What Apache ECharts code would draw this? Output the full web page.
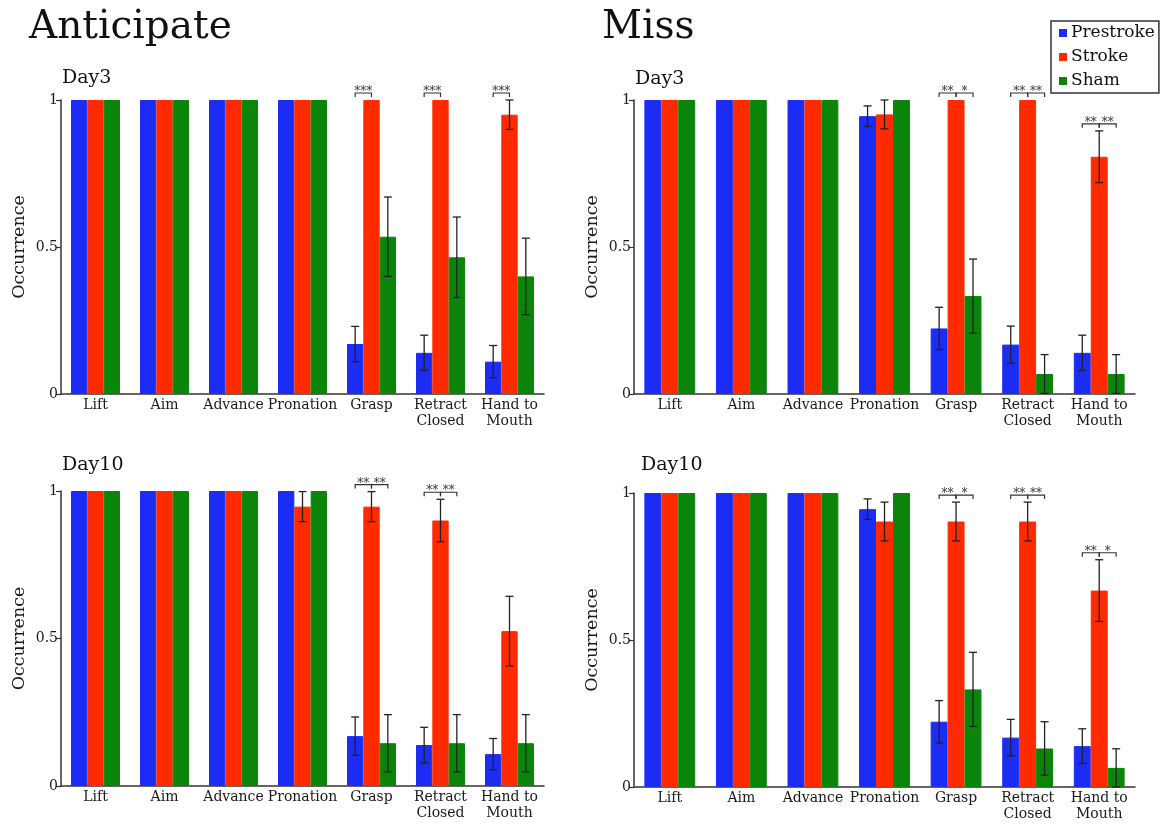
<!DOCTYPE html>
<html>
<head>
<meta charset="utf-8">
<script src="https://cdn.jsdelivr.net/npm/echarts@6/dist/echarts.min.js"></script>
<style>
html,body{margin:0;padding:0;background:#fff;}
#c{width:1164px;height:827px;}
</style>
</head>
<body>
<div id="c"></div>
<script>
// ---------- data ----------
const categories = ['Lift', 'Aim', 'Advance', 'Pronation', 'Grasp', 'Retract\nClosed', 'Hand to\nMouth'];
const seriesNames = ['Prestroke', 'Stroke', 'Sham'];
const yTicks = [0, 0.5, 1];

// Anticipate Day3
const antD3Pre       = [1, 1, 1, 1, 0.17, 0.14, 0.11];
const antD3PreErr    = [0, 0, 0, 0, 0.06, 0.06, 0.055];
const antD3Stroke    = [1, 1, 1, 1, 1, 1, 0.95];
const antD3StrokeErr = [0, 0, 0, 0, 0, 0, 0.05];
const antD3Sham      = [1, 1, 1, 1, 0.535, 0.465, 0.40];
const antD3ShamErr   = [0, 0, 0, 0, 0.135, 0.137, 0.13];
const antD3Sig       = [[4, 0, '***'], [5, 0, '***'], [6, 0, '***']];

// Miss Day3
const missD3Pre       = [1, 1, 1, 0.945, 0.223, 0.168, 0.14];
const missD3PreErr    = [0, 0, 0, 0.035, 0.072, 0.063, 0.06];
const missD3Stroke    = [1, 1, 1, 0.951, 1, 1, 0.807];
const missD3StrokeErr = [0, 0, 0, 0.049, 0, 0, 0.088];
const missD3Sham      = [1, 1, 1, 1, 0.333, 0.068, 0.068];
const missD3ShamErr   = [0, 0, 0, 0, 0.126, 0.066, 0.066];
const missD3Sig       = [[4, 0, '**'], [4, 1, '*'], [5, 0, '**'], [5, 1, '**'], [6, 0, '**'], [6, 1, '**']];

// Anticipate Day10
const antD10Pre       = [1, 1, 1, 1, 0.169, 0.139, 0.108];
const antD10PreErr    = [0, 0, 0, 0, 0.065, 0.06, 0.053];
const antD10Stroke    = [1, 1, 1, 0.947, 0.947, 0.90, 0.525];
const antD10StrokeErr = [0, 0, 0, 0.051, 0.051, 0.072, 0.118];
const antD10Sham      = [1, 1, 1, 1, 0.145, 0.145, 0.145];
const antD10ShamErr   = [0, 0, 0, 0, 0.097, 0.097, 0.097];
const antD10Sig       = [[4, 0, '**'], [4, 1, '**'], [5, 0, '**'], [5, 1, '**']];

// Miss Day10
const missD10Pre       = [1, 1, 1, 0.945, 0.222, 0.168, 0.139];
const missD10PreErr    = [0, 0, 0, 0.035, 0.072, 0.062, 0.059];
const missD10Stroke    = [1, 1, 1, 0.903, 0.903, 0.903, 0.668];
const missD10StrokeErr = [0, 0, 0, 0.066, 0.066, 0.066, 0.105];
const missD10Sham      = [1, 1, 1, 1, 0.332, 0.131, 0.065];
const missD10ShamErr   = [0, 0, 0, 0, 0.126, 0.091, 0.065];
const missD10Sig       = [[4, 0, '**'], [4, 1, '*'], [5, 0, '**'], [5, 1, '**'], [6, 0, '**'], [6, 1, '*']];

// ---------- styling / layout ----------
const FONT = 'DejaVu Serif';
const COLORS = ['#1b2cf5', '#ff2a00', '#0a850a'];
const GAP = 0.29;
const AXIS_COLOR = '#333';
const TEXT_COLOR = '#1a1a1a';

const panels = [
  { title: 'Day3',  tx: 62,  ty: 69,  grid: { left: 61,  top: 100, width: 483, height: 294 },
    vals: [antD3Pre, antD3Stroke, antD3Sham], errs: [antD3PreErr, antD3StrokeErr, antD3ShamErr], sig: antD3Sig },
  { title: 'Day3',  tx: 635, ty: 70,  grid: { left: 634, top: 100, width: 501, height: 294 },
    vals: [missD3Pre, missD3Stroke, missD3Sham], errs: [missD3PreErr, missD3StrokeErr, missD3ShamErr], sig: missD3Sig },
  { title: 'Day10', tx: 62,  ty: 456, grid: { left: 61,  top: 491, width: 483, height: 295 },
    vals: [antD10Pre, antD10Stroke, antD10Sham], errs: [antD10PreErr, antD10StrokeErr, antD10ShamErr], sig: antD10Sig },
  { title: 'Day10', tx: 641, ty: 456, grid: { left: 634, top: 493, width: 501, height: 294 },
    vals: [missD10Pre, missD10Stroke, missD10Sham], errs: [missD10PreErr, missD10StrokeErr, missD10ShamErr], sig: missD10Sig }
];

const titles = [
  { text: 'Anticipate', left: 29, top: 8, padding: 0, textStyle: { fontFamily: FONT, fontSize: 39, fontWeight: 'normal', color: '#111' } },
  { text: 'Miss', left: 602, top: 8, padding: 0, textStyle: { fontFamily: FONT, fontSize: 39, fontWeight: 'normal', color: '#111' } }
];
const grids = [], xAxes = [], yAxes = [], series = [];

panels.forEach((p, pi) => {
  titles.push({ text: p.title, left: p.tx, top: p.ty, padding: 0,
    textStyle: { fontFamily: FONT, fontSize: 19, fontWeight: 'normal', color: '#111' } });
  grids.push(p.grid);
  xAxes.push({
    type: 'category', gridIndex: pi, data: categories,
    axisLine: { lineStyle: { color: AXIS_COLOR, width: 1.5 } },
    axisTick: { show: false },
    axisLabel: { interval: 0, margin: 4, fontFamily: FONT, fontSize: 14, lineHeight: 15.5, color: TEXT_COLOR }
  });
  yAxes.push({
    type: 'value', gridIndex: pi, min: yTicks[0], max: yTicks[yTicks.length - 1], interval: yTicks[1] - yTicks[0],
    name: 'Occurrence', nameLocation: 'middle', nameGap: 33,
    nameTextStyle: { fontFamily: FONT, fontSize: 17.5, color: TEXT_COLOR },
    axisLine: { show: true, lineStyle: { color: AXIS_COLOR, width: 1.5 } },
    axisTick: { show: true, length: 5, lineStyle: { color: AXIS_COLOR, width: 1.2 } },
    axisLabel: { margin: 3, fontFamily: FONT, fontSize: 14, color: TEXT_COLOR },
    splitLine: { show: false }
  });

  // bars
  for (let k = 0; k < 3; k++) {
    series.push({
      type: 'bar', name: seriesNames[k], xAxisIndex: pi, yAxisIndex: pi,
      data: p.vals[k], itemStyle: { color: COLORS[k], borderColor: COLORS[k], borderWidth: 1 },
      barGap: '0%', barCategoryGap: (GAP * 100) + '%', z: 2
    });
  }
  // error bars
  for (let k = 0; k < 3; k++) {
    const d = p.vals[k].map((v, i) => [i, v, p.errs[k][i]]);
    series.push({
      type: 'custom', name: seriesNames[k] + ' error', xAxisIndex: pi, yAxisIndex: pi, z: 5,
      silent: true, data: d,
      renderItem: function (params, api) {
        const i = api.value(0), v = api.value(1), e = api.value(2);
        if (!(e > 0)) return null;
        const band = api.size([1, 0])[0];
        const bw = band * (1 - GAP) / 3;
        const c = api.coord([i, v]);
        const x = c[0] + (k - 1) * bw;
        const yt = api.coord([i, v + e])[1];
        const yb = api.coord([i, Math.max(0, v - e)])[1];
        const cap = 4;
        const st = { stroke: '#222', lineWidth: 1.3 };
        return { type: 'group', children: [
          { type: 'line', shape: { x1: x, y1: yt, x2: x, y2: yb }, style: st },
          { type: 'line', shape: { x1: x - cap, y1: yt, x2: x + cap, y2: yt }, style: st },
          { type: 'line', shape: { x1: x - cap, y1: yb, x2: x + cap, y2: yb }, style: st }
        ] };
      }
    });
  }
  // significance brackets
  const tops = categories.map((_, i) => Math.max(...[0, 1, 2].map(k => p.vals[k][i] + p.errs[k][i])));
  const sigData = p.sig.map(s => [s[0], s[1], tops[s[0]], s[2]]);
  series.push({
    type: 'custom', name: 'sig', xAxisIndex: pi, yAxisIndex: pi, z: 6, silent: true,
    data: sigData,
    renderItem: function (params, api) {
      const item = sigData[params.dataIndex];
      const i = item[0], pair = item[1], top = item[2], label = item[3];
      const band = api.size([1, 0])[0];
      const bw = band * (1 - GAP) / 3;
      const c = api.coord([i, top]);
      const y = c[1] - 7;
      const x1 = c[0] + (pair - 1) * bw, x2 = x1 + bw;
      return { type: 'group', children: [
        { type: 'polyline', shape: { points: [[x1, y + 4], [x1, y], [x2, y], [x2, y + 4]] },
          style: { stroke: '#333', lineWidth: 1.2, fill: null } },
        { type: 'text', x: (x1 + x2) / 2, y: y - 1,
          style: { text: label, fontFamily: FONT, fontSize: 12, fill: '#333', align: 'center', verticalAlign: 'middle' } }
      ] };
    }
  });
});

const chart = echarts.init(document.getElementById('c'), null, { renderer: 'canvas' });
chart.setOption({
  animation: false,
  backgroundColor: '#fff',
  title: titles,
  legend: {
    data: seriesNames, orient: 'vertical', left: 1051, top: 21,
    icon: 'rect', itemWidth: 6, itemHeight: 6, itemGap: 0,
    padding: [0, 4, 0, 8], borderColor: '#333', borderWidth: 1.5,
    selectedMode: false,
    textStyle: { fontFamily: FONT, fontSize: 17, lineHeight: 24, color: '#111' }
  },
  grid: grids,
  xAxis: xAxes,
  yAxis: yAxes,
  series: series
});
</script>
</body>
</html>
